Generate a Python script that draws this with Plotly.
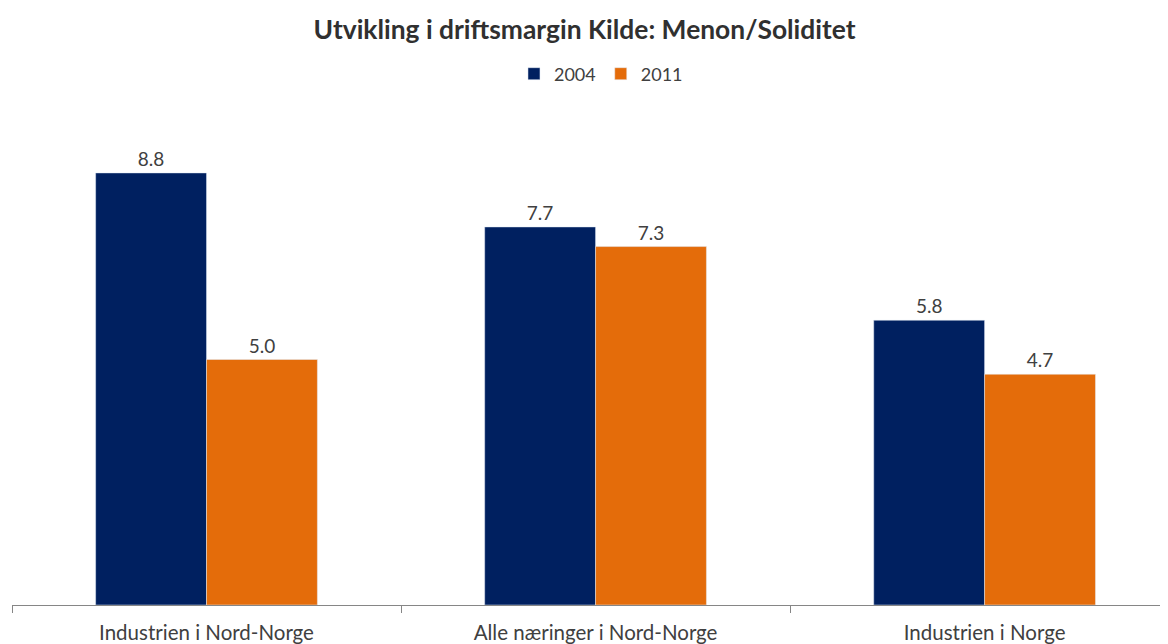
import plotly.graph_objects as go

categories = ["Industrien i Nord-Norge", "Alle næringer i Nord-Norge", "Industrien i Norge"]
v2004 = [8.8, 7.7, 5.8]
v2011 = [5.0, 7.3, 4.7]

FONT = "Lato"
TXT = "#404040"

fig = go.Figure()
fig.add_trace(go.Bar(name="2004", x=categories, y=v2004, marker_color="#002060",
                     text=[f"{v:.1f}" for v in v2004], textposition="outside",
                     textfont=dict(size=19, color=TXT, family=FONT), cliponaxis=False))
fig.add_trace(go.Bar(name="2011", x=categories, y=v2011, marker_color="#E46C0A",
                     text=[f"{v:.1f}" for v in v2011], textposition="outside",
                     textfont=dict(size=19, color=TXT, family=FONT), cliponaxis=False))

fig.update_layout(
    width=1168, height=644,
    margin=dict(l=4, r=0, t=106, b=47),
    paper_bgcolor="white", plot_bgcolor="white",
    barmode="group", bargap=0.43, bargroupgap=0,
    font=dict(family=FONT, size=19, color=TXT),
    title=dict(text="<b>Utvikling i driftsmargin Kilde: Menon/Soliditet</b>",
               x=0.4936, xanchor="center", y=0.9658, yanchor="middle",
               font=dict(size=26.4, color="#303030", family=FONT)),
    legend=dict(orientation="h", x=0.506, xanchor="center", y=1.0815, yanchor="middle",
                font=dict(size=18, color=TXT, family=FONT),
                traceorder="normal", itemwidth=30),
    showlegend=True,
)
fig.update_xaxes(type="category", range=[-0.5, 2.492],
                 showline=True, linecolor="#868686", linewidth=1,
                 ticks="outside", tickson="boundaries", ticklen=7, tickcolor="#868686",
                 ticklabelstandoff=9,
                 showgrid=False, tickfont=dict(size=20.5, color=TXT, family=FONT))
fig.update_yaxes(range=[0, 10], visible=False, showgrid=False, zeroline=False)

fig.write_html("out.html")
